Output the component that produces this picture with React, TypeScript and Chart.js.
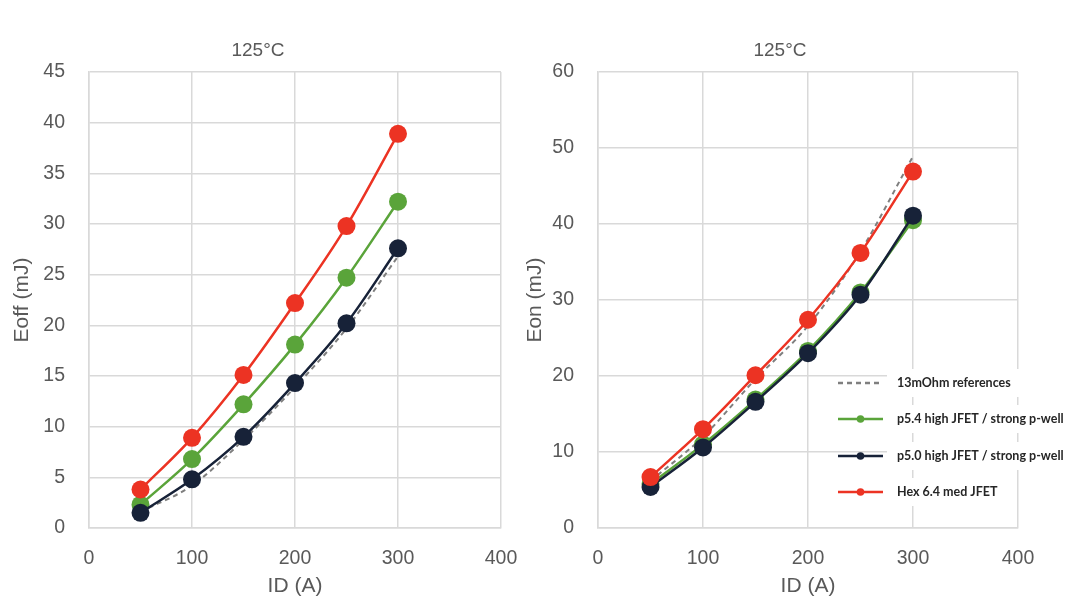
import React, { useEffect, useRef } from "react";
import { Chart, registerables } from "chart.js";
Chart.register(...registerables);

const currents = [50, 100, 150, 200, 250, 300];
const seriesLabels = [
  "13mOhm references",
  "p5.4 high JFET / strong p-well",
  "p5.0 high JFET / strong p-well",
  "Hex 6.4 med JFET",
];
const chartTitle = "125°C";
const xTitle = "ID (A)";

// Eoff (left)
const eoffRef = [1.6, 4.2, 8.7, 13.9, 19.7, 26.8];
const eoffP54 = [2.3, 6.8, 12.2, 18.1, 24.7, 32.2];
const eoffP50 = [1.5, 4.8, 9.0, 14.3, 20.2, 27.6];
const eoffHex = [3.8, 8.9, 15.1, 22.2, 29.8, 38.9];

// Eon (right)
const eonRef = [6.2, 12.0, 19.6, 26.6, 36.4, 48.9];
const eonP54 = [5.8, 11.0, 16.9, 23.3, 31.0, 40.5];
const eonP50 = [5.4, 10.6, 16.6, 23.0, 30.7, 41.1];
const eonHex = [6.7, 13.0, 20.1, 27.4, 36.2, 46.9];

const COLORS = ["#7f7f7f", "#5aa43a", "#172238", "#ec3323"];
const GRID = "#d9d9d9";
const TXT = "#595959";
const FONT = '"Liberation Sans", Arial, sans-serif';

const titlePlugin = {
  id: "customTitle",
  afterDraw(chart: any, _args: any, opts: any) {
    const ctx = chart.ctx;
    ctx.save();
    ctx.font = `19px ${FONT}`;
    ctx.fillStyle = TXT;
    ctx.textAlign = "center";
    ctx.textBaseline = "middle";
    ctx.fillText(opts.text, opts.x, opts.y);
    ctx.restore();
  },
};

const legendPlugin = {
  id: "customLegend",
  afterDraw(chart: any, _args: any, opts: any) {
    if (!opts || !opts.show) return;
    const ctx = chart.ctx;
    ctx.save();
    ctx.font = `bold 12.5px Lato, "Open Sans", sans-serif`;
    const ys = opts.ys as number[];
    chart.data.datasets.forEach((ds: any, i: number) => {
      const y = ys[i];
      const tx = opts.textX;
      const w = ctx.measureText(ds.label).width;
      ctx.fillStyle = "#ffffff";
      ctx.fillRect(tx - 10, y - 14, w + 20, 28);
      ctx.strokeStyle = ds.borderColor;
      ctx.lineWidth = 2.5;
      ctx.setLineDash(ds.borderDash || []);
      ctx.beginPath();
      ctx.moveTo(opts.lineX0, y);
      ctx.lineTo(opts.lineX1, y);
      ctx.stroke();
      ctx.setLineDash([]);
      if (ds.pointRadius > 0) {
        ctx.fillStyle = ds.borderColor;
        ctx.beginPath();
        ctx.arc((opts.lineX0 + opts.lineX1) / 2, y, 3.8, 0, Math.PI * 2);
        ctx.fill();
      }
      ctx.fillStyle = "#262626";
      ctx.textAlign = "left";
      ctx.textBaseline = "middle";
      ctx.fillText(ds.label, tx, y);
    });
    ctx.restore();
  },
};

function makeDatasets(values: number[][]) {
  return values.map((vals, i) => ({
    label: seriesLabels[i],
    data: currents.map((c, j) => ({ x: c, y: vals[j] })),
    borderColor: COLORS[i],
    backgroundColor: COLORS[i],
    borderWidth: i === 0 ? 2 : 2.5,
    borderDash: i === 0 ? [5, 4] : undefined,
    pointRadius: i === 0 ? 0 : 9,
    pointHoverRadius: i === 0 ? 0 : 9,
    pointBorderWidth: 0,
    cubicInterpolationMode: "monotone" as const,
    order: [3, 2, 1, 0][i],
  }));
}

function makeConfig(p: {
  values: number[][];
  yMax: number;
  yStep: number;
  yTitle: string;
  yWidth: number;
  yTitlePad: number;
  padRight: number;
  titleX: number;
  legend: any;
}): any {
  return {
    type: "line",
    data: { datasets: makeDatasets(p.values) },
    plugins: [titlePlugin, legendPlugin],
    options: {
      responsive: false,
      animation: false,
      layout: { padding: { left: 0, right: p.padRight, top: 72, bottom: 10 } },
      plugins: {
        legend: { display: false },
        tooltip: { enabled: false },
        customTitle: { text: chartTitle, x: p.titleX, y: 51 },
        customLegend: p.legend,
      },
      scales: {
        x: {
          type: "linear",
          min: 0,
          max: 400,
          ticks: { stepSize: 100, padding: 19, color: TXT, font: { family: FONT, size: 19.5 } },
          grid: { color: GRID, lineWidth: 1.5, drawTicks: false },
          border: { color: GRID, width: 1.5 },
          title: {
            display: true,
            text: xTitle,
            color: TXT,
            font: { family: FONT, size: 21 },
            padding: { top: 4, bottom: 4 },
          },
          afterFit(scale: any) {
            scale.height = 75;
          },
        },
        y: {
          min: 0,
          max: p.yMax,
          ticks: { stepSize: p.yStep, padding: 24, color: TXT, font: { family: FONT, size: 19.5 } },
          grid: { color: GRID, lineWidth: 1.5, drawTicks: false },
          border: { color: GRID, width: 1.5 },
          title: {
            display: true,
            text: p.yTitle,
            color: TXT,
            font: { family: FONT, size: 21 },
            padding: { top: p.yTitlePad, bottom: 4 },
          },
          afterFit(scale: any) {
            scale.width = p.yWidth;
          },
        },
      },
    },
  };
}

function ChartCanvas(props: { config: any; left: number; width: number }) {
  const ref = useRef<HTMLCanvasElement | null>(null);
  useEffect(() => {
    if (!ref.current) return;
    const chart = new Chart(ref.current, props.config);
    return () => chart.destroy();
  }, []);
  return (
    <canvas
      ref={ref}
      width={props.width}
      height={613}
      style={{ position: "absolute", left: props.left, top: 0, width: props.width, height: 613 }}
    />
  );
}

export default function App() {
  const leftCfg = makeConfig({
    values: [eoffRef, eoffP54, eoffP50, eoffHex],
    yMax: 45,
    yStep: 5,
    yTitle: "Eoff (mJ)",
    yWidth: 89,
    yTitlePad: 10,
    padRight: 39,
    titleX: 258,
    legend: { show: false },
  });
  const rightCfg = makeConfig({
    values: [eonRef, eonP54, eonP50, eonHex],
    yMax: 60,
    yStep: 10,
    yTitle: "Eon (mJ)",
    yWidth: 88,
    yTitlePad: 13,
    padRight: 62,
    titleX: 270,
    legend: { show: true, ys: [383, 419, 456, 492], lineX0: 328, lineX1: 373, textX: 387 },
  });
  return (
    <div style={{ position: "fixed", left: 0, top: 0, width: 1080, height: 613, background: "#fff" }}>
      <ChartCanvas config={leftCfg} left={0} width={540} />
      <ChartCanvas config={rightCfg} left={510} width={570} />
    </div>
  );
}
